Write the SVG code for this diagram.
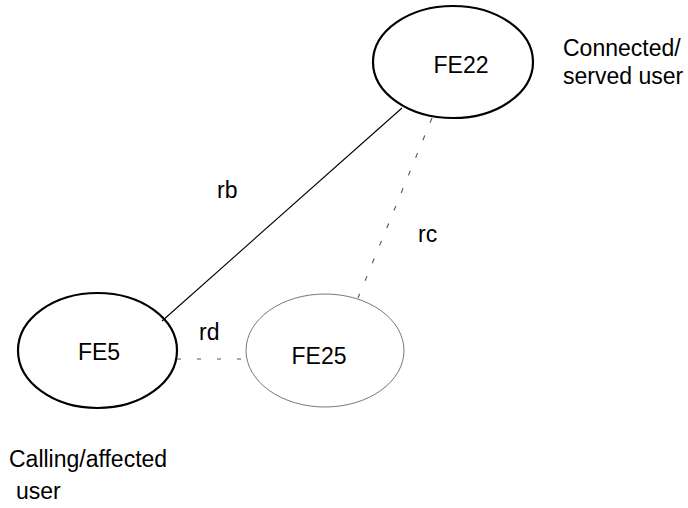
<svg xmlns="http://www.w3.org/2000/svg" width="688" height="508" viewBox="0 0 688 508">
<style>
text{font-family:"Liberation Sans",Arial,sans-serif;font-size:23px;fill:#000}
.bold{fill:none;stroke:#000;stroke-width:2.2}
.thin{fill:none;stroke:#777;stroke-width:1}
.solid{stroke:#000;stroke-width:1.1;fill:none}
.dash{stroke:#555;stroke-width:1.1;fill:none}
</style>
<rect width="688" height="508" fill="#fff"/>
<g id="connectors">
<line id="rb" class="solid" x1="402" y1="108" x2="162" y2="321"/>
<line id="rc" class="dash" x1="432" y1="118" x2="358" y2="298" stroke-dasharray="5 14"/>
<line id="rd" class="dash" x1="177" y1="359" x2="246" y2="359" stroke-dasharray="4 16"/>
<text x="217" y="198">rb</text>
<text x="418" y="242">rc</text>
<text x="199" y="340">rd</text>
</g>
<g id="FE22">
<ellipse class="bold" cx="453" cy="62" rx="80" ry="56"/>
<text x="461" y="73" text-anchor="middle">FE22</text>
</g>
<g id="FE5">
<ellipse class="bold" cx="97.5" cy="350.5" rx="79.5" ry="57.5"/>
<text x="99" y="360" text-anchor="middle">FE5</text>
</g>
<g id="FE25">
<ellipse class="thin" cx="325" cy="350.5" rx="79" ry="56.5"/>
<text x="319" y="364" text-anchor="middle">FE25</text>
</g>
<g id="labels">
<text x="563" y="56">Connected/</text>
<text x="563" y="84">served user</text>
<text x="9" y="467">Calling/affected</text>
<text x="16" y="499">user</text>
</g>
</svg>
